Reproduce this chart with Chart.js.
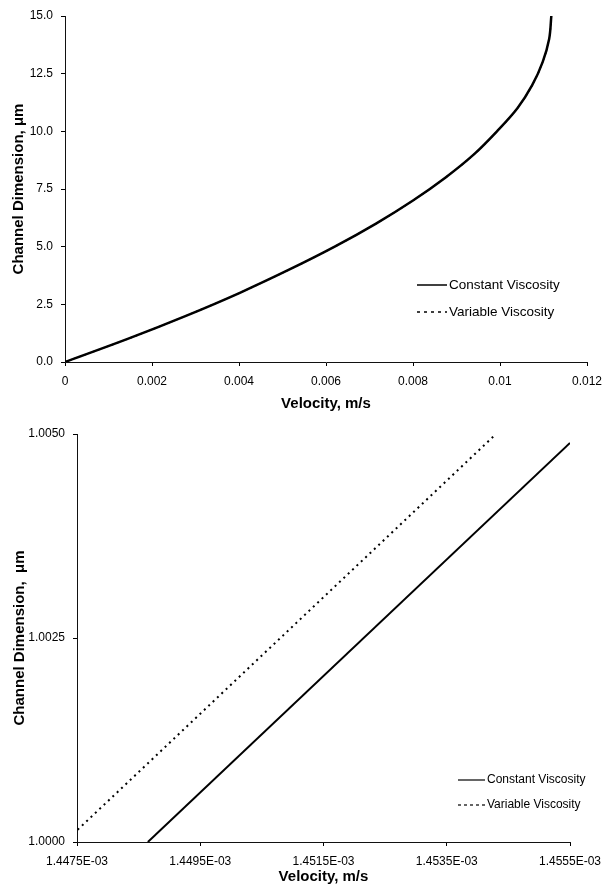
<!DOCTYPE html>
<html lang="en">
<head>
  <meta charset="UTF-8">
  <title>Channel velocity profiles</title>
  <script src="https://cdn.jsdelivr.net/npm/chart.js@4"></script>
  <style>
    body {
      margin: 0;
      background: #fff;
      width: 603px;
      height: 884px;
      overflow: hidden;
    }
    .panel {
      position: absolute;
      left: 0;
    }
  </style>
</head>
<body>
  <div class="panel" style="top:0"><canvas id="fullChart" width="603" height="420"></canvas></div>
  <div class="panel" style="top:420px"><canvas id="zoomChart" width="603" height="464"></canvas></div>

  <script>
    // --- top panel: full profile (velocity m/s vs channel dimension um)
    const fullHeight = [0, 1, 2, 3, 4, 5, 6, 7, 8, 9, 10, 11, 12, 13, 14, 15];
    const fullConstVel = [0, 0.00144, 0.00278, 0.00402, 0.00515, 0.00620, 0.00715, 0.00800,
                          0.00875, 0.00940, 0.00993, 0.01040, 0.01074, 0.01098, 0.01113, 0.01118];
    const fullVarVel = [0, 0.00144, 0.00278, 0.00402, 0.00515, 0.00620, 0.00715, 0.00800,
                        0.00875, 0.00940, 0.00993, 0.01040, 0.01074, 0.01098, 0.01113, 0.01118];
    const fullXTicks = [0, 0.002, 0.004, 0.006, 0.008, 0.01, 0.012];
    const fullXLabels = ["0", "0.002", "0.004", "0.006", "0.008", "0.01", "0.012"];
    const fullYTicks = [0, 2.5, 5, 7.5, 10, 12.5, 15];
    const fullYLabels = ["0.0", "2.5", "5.0", "7.5", "10.0", "12.5", "15.0"];

    // --- bottom panel: close-up near the wall
    const zoomConstVel = [1.44865e-3, 1.45550e-3];
    const zoomConstHeight = [1.0000, 1.00489];
    const zoomVarVel = [1.44751e-3, 1.45430e-3];
    const zoomVarHeight = [1.00015, 1.0050];
    const zoomXTicks = [1.4475e-3, 1.4495e-3, 1.4515e-3, 1.4535e-3, 1.4555e-3];
    const zoomXLabels = ["1.4475E-03", "1.4495E-03", "1.4515E-03", "1.4535E-03", "1.4555E-03"];
    const zoomYTicks = [1.0, 1.0025, 1.005];
    const zoomYLabels = ["1.0000", "1.0025", "1.0050"];

    const seriesNames = ["Constant Viscosity", "Variable Viscosity"];

    const FONT = "'Liberation Sans', Arial, sans-serif";
    const toPoints = (xs, ys) => xs.map((x, i) => ({ x: x, y: ys[i] }));

    // small legend drawn at a fixed spot inside the plot
    const boxLegend = {
      id: "boxLegend",
      afterDraw(chart, args, opts) {
        const ctx = chart.ctx;
        ctx.save();
        ctx.font = opts.fontSize + "px " + FONT;
        ctx.fillStyle = "#000";
        ctx.textBaseline = "middle";
        chart.data.datasets.forEach((ds, i) => {
          const y = opts.y + i * opts.rowGap;
          ctx.beginPath();
          ctx.strokeStyle = "#000";
          ctx.lineWidth = opts.lineWidth;
          ctx.setLineDash(ds.borderDash && ds.borderDash.length ? opts.dash : []);
          ctx.moveTo(opts.x, y);
          ctx.lineTo(opts.x + opts.lineLen, y);
          ctx.stroke();
          ctx.setLineDash([]);
          ctx.fillText(ds.label, opts.x + opts.lineLen + opts.gap, y);
        });
        ctx.restore();
      }
    };

    function makeAxis(tickVals, tickLabels, min, max, title, fixed, isX, titlePad) {
      return {
        type: "linear",
        min: min,
        max: max,
        afterBuildTicks: s => { s.ticks = tickVals.map(v => ({ value: v })); },
        afterFit: s => {
          // fixed axis size, and no extra room for overhanging end labels
          if (isX) { s.height = fixed; s.paddingLeft = 0; s.paddingRight = 0; }
          else { s.width = fixed; s.paddingTop = 0; s.paddingBottom = 0; }
        },
        ticks: {
          color: "#000",
          font: { family: FONT, size: 12 },
          padding: 8,
          maxRotation: 0,
          autoSkip: false,
          callback: (v, i) => tickLabels[i]
        },
        grid: {
          drawOnChartArea: false,
          drawTicks: true,
          tickLength: 4,
          color: "#000"
        },
        border: { display: true, color: "#111", width: 1 },
        title: {
          display: true,
          text: title,
          color: "#000",
          font: { family: FONT, size: 15, weight: "bold", lineHeight: 1 },
          padding: titlePad
        }
      };
    }

    // top chart
    new Chart(document.getElementById("fullChart"), {
      type: "scatter",
      data: {
        datasets: [{
          label: seriesNames[0],
          data: toPoints(fullConstVel, fullHeight),
          showLine: true,
          borderColor: "#000",
          borderWidth: 2.5,
          pointRadius: 0,
          tension: 0.35
        }, {
          label: seriesNames[1],
          data: toPoints(fullVarVel, fullHeight),
          showLine: true,
          borderColor: "#000",
          borderWidth: 1.5,
          borderDash: [2, 3],
          pointRadius: 0,
          tension: 0.35
        }]
      },
      options: {
        responsive: false,
        animation: false,
        layout: { padding: { top: 16, right: 16, left: 0, bottom: 0 } },
        scales: {
          x: makeAxis(fullXTicks, fullXLabels, 0, 0.012, "Velocity, m/s", 58, true, { top: 0, bottom: 8.5 }),
          y: makeAxis(fullYTicks, fullYLabels, 0, 15, "Channel Dimension, \u03bcm", 65, false, { top: 11, bottom: 0 })
        },
        plugins: {
          legend: { display: false },
          tooltip: { enabled: false },
          boxLegend: { x: 417, y: 285, lineLen: 30, gap: 2, rowGap: 27, fontSize: 13.5, lineWidth: 1.5, dash: [3, 4] }
        }
      },
      plugins: [boxLegend]
    });

    // bottom chart
    new Chart(document.getElementById("zoomChart"), {
      type: "scatter",
      data: {
        datasets: [{
          label: seriesNames[0],
          data: toPoints(zoomConstVel, zoomConstHeight),
          showLine: true,
          borderColor: "#000",
          borderWidth: 2,
          pointRadius: 0
        }, {
          label: seriesNames[1],
          data: toPoints(zoomVarVel, zoomVarHeight),
          showLine: true,
          borderColor: "#000",
          borderWidth: 2,
          borderDash: [2, 4],
          pointRadius: 0
        }]
      },
      options: {
        responsive: false,
        animation: false,
        layout: { padding: { top: 14, right: 33, left: 0, bottom: 0 } },
        scales: {
          x: makeAxis(zoomXTicks, zoomXLabels, 1.4475e-3, 1.4555e-3, "Velocity, m/s", 42, true, { top: 0, bottom: 0 }),
          y: makeAxis(zoomYTicks, zoomYLabels, 1.0, 1.005, "Channel Dimension,  \u03bcm", 77, false, { top: 12, bottom: 0 })
        },
        plugins: {
          legend: { display: false },
          tooltip: { enabled: false },
          boxLegend: { x: 458, y: 360, lineLen: 27, gap: 2, rowGap: 25, fontSize: 12, lineWidth: 1.2, dash: [3, 3] }
        }
      },
      plugins: [boxLegend]
    });
  </script>
</body>
</html>
